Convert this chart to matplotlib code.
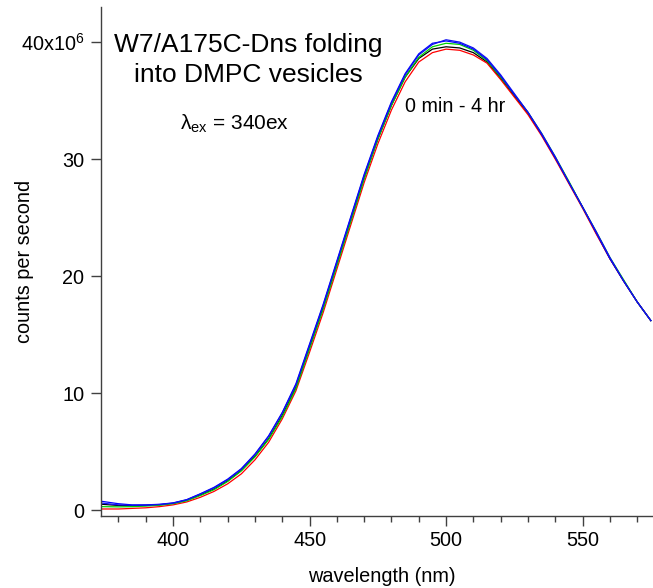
import matplotlib
matplotlib.use("Agg")
import matplotlib.pyplot as plt
from matplotlib.ticker import MultipleLocator

plt.rcParams['font.family'] = ['Liberation Sans', 'DejaVu Sans']
plt.rcParams['mathtext.fontset'] = 'custom'
plt.rcParams['mathtext.rm'] = 'Liberation Sans'
plt.rcParams['mathtext.it'] = 'Liberation Sans'

# wavelength (nm)
wavelength = [374, 380, 385, 390, 395, 400, 405, 410, 415, 420, 425, 430, 435, 440,
              445, 450, 455, 460, 465, 470, 475, 480, 485, 490, 495, 500, 505, 510,
              515, 520, 525, 530, 535, 540, 545, 550, 555, 560, 565, 570, 575]

# counts per second (x10^6), several time points 0 min - 4 hr
black_1 = [0.50, 0.40, 0.38, 0.40, 0.45, 0.58, 0.85, 1.30, 1.80, 2.50, 3.40, 4.60, 6.10, 8.10,
           10.5, 13.9, 17.3, 21.0, 24.7, 28.4, 31.7, 34.6, 37.0, 38.6, 39.4, 39.6, 39.5, 39.1,
           38.3, 36.9, 35.4, 33.9, 32.1, 30.1, 28.0, 25.9, 23.7, 21.5, 19.6, 17.8, 16.2]
red_1 = [0.10, 0.10, 0.15, 0.20, 0.30, 0.45, 0.70, 1.10, 1.60, 2.25, 3.10, 4.30, 5.80, 7.80,
         10.2, 13.5, 16.9, 20.6, 24.3, 28.0, 31.3, 34.2, 36.6, 38.3, 39.1, 39.4, 39.3, 38.9,
         38.2, 36.8, 35.3, 33.8, 32.0, 30.0, 27.9, 25.8, 23.6, 21.5, 19.6, 17.8, 16.2]
green_1 = [0.30, 0.28, 0.30, 0.35, 0.42, 0.55, 0.80, 1.25, 1.75, 2.45, 3.35, 4.55, 6.05, 8.00,
           10.4, 13.8, 17.2, 20.9, 24.6, 28.3, 31.7, 34.6, 37.0, 38.7, 39.6, 39.9, 39.8, 39.3,
           38.4, 37.0, 35.5, 34.0, 32.2, 30.2, 28.1, 25.9, 23.8, 21.6, 19.7, 17.8, 16.2]
blue_1 = [0.75, 0.55, 0.45, 0.45, 0.50, 0.62, 0.90, 1.40, 1.95, 2.65, 3.55, 4.80, 6.35, 8.35,
          10.8, 14.2, 17.6, 21.3, 25.0, 28.7, 32.0, 34.9, 37.3, 39.0, 39.9, 40.1, 39.9, 39.4,
          38.5, 37.1, 35.5, 34.0, 32.1, 30.1, 28.0, 25.9, 23.7, 21.5, 19.6, 17.8, 16.2]
blue_2 = [0.60, 0.45, 0.42, 0.43, 0.48, 0.60, 0.88, 1.38, 1.90, 2.60, 3.50, 4.75, 6.30, 8.30,
          10.7, 14.1, 17.5, 21.2, 24.9, 28.6, 31.9, 34.8, 37.2, 38.9, 39.8, 40.2, 40.0, 39.5,
          38.6, 37.2, 35.6, 34.0, 32.2, 30.2, 28.0, 25.9, 23.8, 21.6, 19.6, 17.8, 16.2]

series = [(black_1, '#000000'), (red_1, '#ff0000'), (green_1, '#00d000'),
          (blue_1, '#0000ff'), (blue_2, '#1010f0')]

ytick_vals = [0, 10, 20, 30, 40]
ytick_labels = ['0', '10', '20', '30', r'40x10$^{\mathregular{6}}$']
xtick_vals = [400, 450, 500, 550]

W, H = 653, 588
fig = plt.figure(figsize=(W / 100, H / 100), dpi=100)
ax = fig.add_axes([101 / W, 1 - 516 / H, 552 / W, 509 / H])

for vals, col in series:
    ax.plot(wavelength, vals, color=col, lw=0.9)

ax.set_xlim(373.6, 575.8)
ax.set_ylim(-0.5, 43.0)
ax.set_xticks(xtick_vals)
ax.xaxis.set_minor_locator(MultipleLocator(10))
ax.set_yticks(ytick_vals)
ax.set_yticklabels(ytick_labels)

for s in ['top', 'right']:
    ax.spines[s].set_visible(False)
for s in ['left', 'bottom']:
    ax.spines[s].set_color('#404040')
    ax.spines[s].set_linewidth(1.0)

ax.tick_params(axis='x', which='major', length=7.2, width=1.0, color='#404040',
               labelsize=14.3, pad=3.8)
ax.tick_params(axis='x', which='minor', length=4.0, width=1.0, color='#404040')
ax.tick_params(axis='y', which='major', length=7.2, width=1.0, color='#404040',
               labelsize=14.3, pad=4.8)

fig.text(25 / W, 1 - 261 / H, 'counts per second', rotation=90, ha='center', va='center',
         fontsize=14.3)
fig.text(382 / W, 1 - 576 / H, 'wavelength (nm)', ha='center', va='center', fontsize=14.3)

fig.text(248 / W, 1 - 52 / H, 'W7/A175C-Dns folding', ha='center', va='baseline', fontsize=19)
fig.text(248 / W, 1 - 82 / H, 'into DMPC vesicles', ha='center', va='baseline', fontsize=19)
fig.text(235 / W, 1 - 130 / H, r'λ$_{\mathregular{ex}}$ = 340ex', ha='center', va='baseline',
         fontsize=15)
fig.text(455 / W, 1 - 112 / H, '0 min - 4 hr', ha='center', va='baseline', fontsize=14.2)

fig.savefig('out.png', dpi=100)
